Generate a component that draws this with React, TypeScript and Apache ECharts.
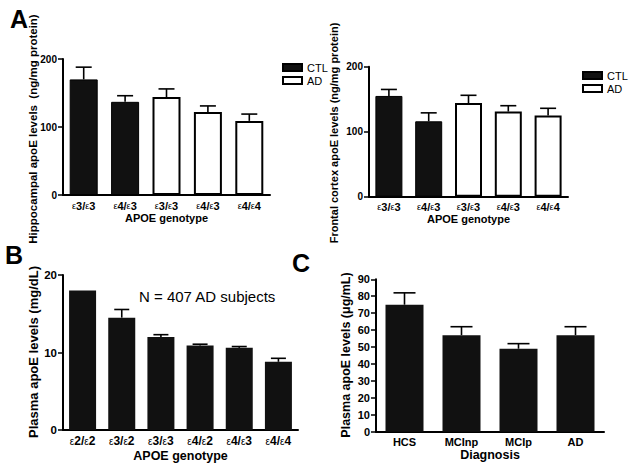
import React, { useEffect, useRef } from "react";
import * as echarts from "echarts";

const FONT = "'Liberation Sans', Arial, Helvetica, sans-serif";

// Panel A (left): hippocampal apoE
const hippoCats = ["ε3/ε3", "ε4/ε3", "ε3/ε3", "ε4/ε3", "ε4/ε4"];
const hippoGroup = ["CTL", "CTL", "AD", "AD", "AD"];
const hippoMeans = [170, 137, 144, 122, 109];
const hippoSem = [18, 9, 12, 9, 10];

// Panel A (right): frontal cortex apoE
const frontalCats = ["ε3/ε3", "ε4/ε3", "ε3/ε3", "ε4/ε3", "ε4/ε4"];
const frontalGroup = ["CTL", "CTL", "AD", "AD", "AD"];
const frontalMeans = [155, 116, 144, 131, 125];
const frontalSem = [10, 13, 12, 9, 11];

// Panel B: plasma apoE by genotype (mg/dL)
const plasmaCats = ["ε2/ε2", "ε3/ε2", "ε3/ε3", "ε4/ε2", "ε4/ε3", "ε4/ε4"];
const plasmaMeans = [18.0, 14.5, 12.0, 10.9, 10.6, 8.8];
const plasmaSem = [0, 1.05, 0.3, 0.17, 0.17, 0.45];

// Panel C: plasma apoE by diagnosis (µg/mL)
const diagCats = ["HCS", "MCInp", "MCIp", "AD"];
const diagMeans = [75, 57, 49, 57];
const diagSem = [7, 5, 3, 5];

const groupNames = ["CTL", "AD"];

function errSeries(idx: number, means: number[], sems: number[], capHalf: number) {
  return {
    type: "custom",
    xAxisIndex: idx,
    yAxisIndex: idx,
    z: 5,
    silent: true,
    data: means.map((m, i) => [i, m, m + sems[i]]),
    encode: { x: 0, y: [1, 2] },
    renderItem: (params: any, api: any) => {
      const v1 = api.value(1);
      const v2 = api.value(2);
      if (!(v2 > v1)) return { type: "group", children: [] };
      const base = api.coord([api.value(0), v1]);
      const top = api.coord([api.value(0), v2]);
      const st = { stroke: "#000", lineWidth: 1.6 };
      return {
        type: "group",
        children: [
          { type: "line", shape: { x1: base[0], y1: base[1], x2: top[0], y2: top[1] }, style: st },
          { type: "line", shape: { x1: top[0] - capHalf, y1: top[1], x2: top[0] + capHalf, y2: top[1] }, style: st },
        ],
      };
    },
  };
}

function groupBars(idx: number, means: number[], groups: string[], barWidth: number) {
  return groupNames.map((g) => ({
    type: "bar",
    name: g,
    xAxisIndex: idx,
    yAxisIndex: idx,
    barWidth,
    barGap: "-100%",
    data: means.map((m, i) => (groups[i] === g ? m : "-")),
    itemStyle:
      g === "CTL"
        ? { color: "#111", borderColor: "#000", borderWidth: 1 }
        : { color: "#fff", borderColor: "#000", borderWidth: 2 },
  }));
}

function xAxis(idx: number, cats: string[], name: string, labelSize: number, nameSize: number, margin: number, nameGap: number) {
  return {
    type: "category",
    gridIndex: idx,
    data: cats,
    name,
    nameLocation: "middle",
    nameGap,
    nameTextStyle: { fontFamily: FONT, fontWeight: "bold", fontSize: nameSize, color: "#000" },
    axisLine: { show: true, lineStyle: { color: "#000", width: 2 } },
    axisTick: { show: false },
    axisLabel: {
      interval: 0,
      margin,
      fontFamily: FONT,
      fontWeight: "bold",
      fontSize: labelSize,
      color: "#000",
      formatter: (v: string) => v.replace(/ε/g, "{e|ε}"),
      rich: {
        e: { fontFamily: FONT, fontWeight: "normal", fontSize: labelSize - 2, color: "#000" },
      },
    },
    splitLine: { show: false },
  };
}

function yAxis(idx: number, max: number, interval: number, labelSize: number) {
  return {
    type: "value",
    gridIndex: idx,
    min: 0,
    max,
    interval,
    axisLine: { show: true, lineStyle: { color: "#000", width: 2 } },
    axisTick: { show: true, length: 5, lineStyle: { color: "#000", width: 1.5 } },
    axisLabel: { margin: 6, fontFamily: FONT, fontWeight: "bold", fontSize: labelSize, color: "#000" },
    splitLine: { show: false },
  };
}

function yTitle(text: string, x: number, y: number, size: number) {
  return {
    type: "text",
    x,
    y,
    rotation: Math.PI / 2,
    style: {
      text,
      font: `bold ${size}px ${FONT}`,
      fill: "#000",
      align: "center",
      verticalAlign: "middle",
    },
  };
}

export default function App() {
  const ref = useRef<HTMLDivElement>(null);
  useEffect(() => {
    if (!ref.current) return;
    const chart = echarts.init(ref.current, undefined, { renderer: "svg" });
    const legendBase = {
      orient: "vertical",
      itemWidth: 19,
      itemHeight: 7,
      itemGap: 2,
      icon: "rect",
      selectedMode: false,
      textStyle: { fontFamily: FONT, fontSize: 11, color: "#000" },
      data: groupNames,
      padding: 0,
    };
    chart.setOption({
      animation: false,
      backgroundColor: "#fff",
      textStyle: { fontFamily: FONT },
      grid: [
        { left: 63, top: 59, width: 207, height: 136 },
        { left: 369, top: 66.7, width: 199, height: 130 },
        { left: 63, top: 275, width: 235, height: 155 },
        { left: 376, top: 279.3, width: 228, height: 152.4 },
      ],
      legend: [
        { ...legendBase, left: 282, top: 62 },
        { ...legendBase, left: 582, top: 70 },
      ],
      xAxis: [
        xAxis(0, hippoCats, "APOE genotype", 11, 11, 5, 17),
        xAxis(1, frontalCats, "APOE genotype", 11, 11, 5, 16),
        xAxis(2, plasmaCats, "APOE genotype", 12, 12.5, 5, 19),
        xAxis(3, diagCats, "Diagnosis", 11, 12.5, 5, 17),
      ],
      yAxis: [
        yAxis(0, 200, 100, 10),
        yAxis(1, 200, 100, 10),
        yAxis(2, 20, 10, 11.5),
        yAxis(3, 90, 10, 11),
      ],
      graphic: [
        { type: "text", left: 10, top: 6, style: { text: "A", font: `bold 25px ${FONT}`, fill: "#000" } },
        { type: "text", left: 5, top: 242, style: { text: "B", font: `bold 25px ${FONT}`, fill: "#000" } },
        { type: "text", left: 292, top: 250, style: { text: "C", font: `bold 25px ${FONT}`, fill: "#000" } },
        { type: "text", left: 139, top: 289, style: { text: "N = 407 AD subjects", font: `15px ${FONT}`, fill: "#000" } },
        yTitle("Hippocampal apoE levels  (ng/mg protein)", 33, 129, 11.5),
        yTitle("Frontal cortex apoE levels (ng/mg protein)", 334, 133, 11),
        yTitle("Plasma apoE levels (mg/dL)", 33, 352, 13),
        yTitle("Plasma apoE levels (μg/mL)", 346, 355, 12.5),
      ],
      series: [
        ...groupBars(0, hippoMeans, hippoGroup, 28),
        errSeries(0, hippoMeans, hippoSem, 8),
        ...groupBars(1, frontalMeans, frontalGroup, 27),
        errSeries(1, frontalMeans, frontalSem, 8),
        {
          type: "bar",
          name: "Plasma apoE (genotype)",
          xAxisIndex: 2,
          yAxisIndex: 2,
          barWidth: 27,
          data: plasmaMeans,
          itemStyle: { color: "#111" },
        },
        errSeries(2, plasmaMeans, plasmaSem, 7.5),
        {
          type: "bar",
          name: "Plasma apoE (diagnosis)",
          xAxisIndex: 3,
          yAxisIndex: 3,
          barWidth: 38,
          data: diagMeans,
          itemStyle: { color: "#111" },
        },
        errSeries(3, diagMeans, diagSem, 11),
      ],
    });
    return () => chart.dispose();
  }, []);
  return <div ref={ref} style={{ position: "absolute", left: 0, top: 0, width: 629, height: 469 }} />;
}
